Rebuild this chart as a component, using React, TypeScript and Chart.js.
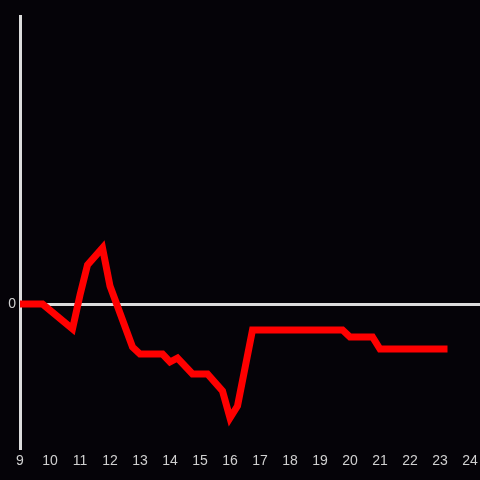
import React, { useEffect, useRef } from "react";
import { Chart, registerables } from "chart.js";

Chart.register(...registerables);

const hours: number[] = [9, 9.75, 10.75, 11, 11.25, 11.75, 12, 12.75, 13, 13.75, 14, 14.25, 14.75, 15.25, 15.75, 16, 16.25, 16.75, 19.75, 20, 20.75, 21, 23.25];
const values: number[] = [0, 0, -2.5, 0.9, 3.9, 5.6, 1.8, -4.3, -5.0, -5.0, -5.8, -5.4, -7.0, -7.0, -8.7, -11.4, -10.2, -2.6, -2.6, -3.3, -3.3, -4.5, -4.5];
const xTicks: number[] = [9, 10, 11, 12, 13, 14, 15, 16, 17, 18, 19, 20, 21, 22, 23, 24];
const yTicks: number[] = [0];

const BG = "#050308";

export default function App() {
  const ref = useRef<HTMLCanvasElement | null>(null);
  useEffect(() => {
    document.body.style.margin = "0";
    document.body.style.background = BG;
    const canvas = ref.current!;
    const bgPlugin = {
      id: "bg",
      beforeDraw(chart: any) {
        const c = chart.ctx;
        c.save();
        c.fillStyle = BG;
        c.fillRect(0, 0, chart.width, chart.height);
        c.restore();
      },
    };
    const chart = new Chart(canvas, {
      type: "line",
      data: {
        datasets: [
          {
            data: hours.map((h, i) => ({ x: h, y: values[i] })),
            borderColor: "#ff0000",
            borderWidth: 7,
            pointRadius: 0,
            tension: 0,
            fill: false,
          },
        ],
      },
      options: {
        animation: false,
        responsive: false,
        maintainAspectRatio: false,
        layout: { padding: { top: 16, right: 0, left: 0, bottom: 0 } },
        plugins: { legend: { display: false }, tooltip: { enabled: false } },
        scales: {
          x: {
            type: "linear",
            min: 9,
            max: 24.333,
            afterBuildTicks: (s: any) => {
              s.ticks = xTicks.map((v) => ({ value: v }));
            },
            afterFit: (s: any) => {
              s.height = 32;
              s.paddingLeft = 0;
              s.paddingRight = 0;
            },
            grid: { display: false, drawTicks: false },
            border: { display: false },
            ticks: {
              color: "#d0d0d0",
              font: { size: 14, family: "Liberation Sans, Arial, sans-serif" },
              padding: 5,
              maxRotation: 0,
              autoSkip: false,
            },
          },
          y: {
            min: -14.4,
            max: 28.8,
            afterBuildTicks: (s: any) => {
              s.ticks = yTicks.map((v) => ({ value: v }));
            },
            afterFit: (s: any) => {
              s.width = 20;
              s.paddingTop = 0;
              s.paddingBottom = 0;
            },
            grid: {
              drawTicks: false,
              color: (ctx: any) => (ctx.tick && ctx.tick.value === 0 ? "#dcdcdc" : "rgba(0,0,0,0)"),
              lineWidth: 3,
            },
            border: { display: true, color: "#dcdcdc", width: 3 },
            ticks: {
              color: "#d0d0d0",
              font: { size: 14, family: "Liberation Sans, Arial, sans-serif" },
              padding: 4,
            },
          },
        },
      },
      plugins: [bgPlugin],
    } as any);
    return () => chart.destroy();
  }, []);
  return (
    <div style={{ position: "absolute", left: 0, top: 0, width: 480, height: 480, background: BG }}>
      <canvas ref={ref} width={480} height={480} style={{ display: "block", width: 480, height: 480 }} />
    </div>
  );
}
